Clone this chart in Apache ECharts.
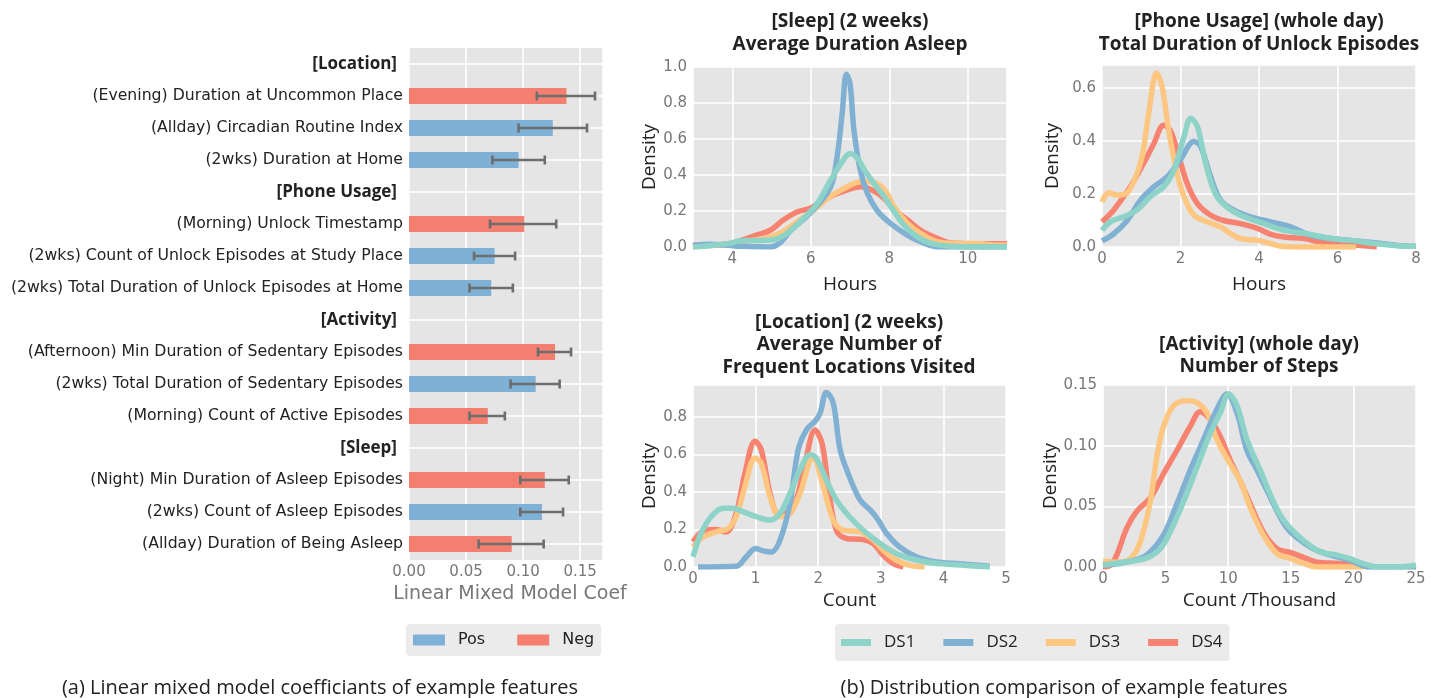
<!DOCTYPE html>
<html><head><meta charset="utf-8">
<script src="https://cdn.jsdelivr.net/npm/echarts@6/dist/echarts.min.js"></script>
<style>html,body{margin:0;padding:0;background:#fff}#c{width:1437px;height:698px}</style>
</head><body><div id="c"></div>
<script>
// ---------- (a) coefficients ----------
const features = ['[Location]','(Evening) Duration at Uncommon Place','(Allday) Circadian Routine Index','(2wks) Duration at Home',
  '[Phone Usage]','(Morning) Unlock Timestamp','(2wks) Count of Unlock Episodes at Study Place','(2wks) Total Duration of Unlock Episodes at Home',
  '[Activity]','(Afternoon) Min Duration of Sedentary Episodes','(2wks) Total Duration of Sedentary Episodes','(Morning) Count of Active Episodes',
  '[Sleep]','(Night) Min Duration of Asleep Episodes','(2wks) Count of Asleep Episodes','(Allday) Duration of Being Asleep'];
const coefValues = [null,0.138,0.126,0.096, null,0.101,0.075,0.072, null,0.128,0.111,0.069, null,0.119,0.1165,0.090];
const coefSign   = ['', 'Neg','Pos','Pos', '', 'Neg','Pos','Pos', '', 'Neg','Pos','Neg', '', 'Neg','Pos','Neg'];
const errLow     = [null,0.112,0.096,0.073, null,0.071,0.057,0.053, null,0.113,0.089,0.053, null,0.0975,0.0975,0.061];
const errHigh    = [null,0.163,0.156,0.119, null,0.129,0.093,0.091, null,0.142,0.132,0.084, null,0.140,0.135,0.118];
const signNames = ['Pos','Neg'];

// ---------- (b) densities ----------
const dsNames = ['DS1','DS2','DS3','DS4'];
// Sleep (hours)
const sleepDS1 = [[3,0],[3.94,0.02],[4.2,0.035],[4.8,0.037],[5.14,0.045],[5.48,0.09],[5.82,0.16],[6.16,0.24],[6.5,0.37],[6.85,0.49],[7.0,0.52],[7.2,0.49],[7.36,0.43],[7.62,0.35],[7.87,0.28],[8.13,0.195],[8.38,0.12],[8.73,0.055],[9.07,0.02],[9.58,0.004],[11,0]];
const sleepDS2 = [[3,0.008],[3.43,0.015],[3.9,0.01],[4.2,0.004],[4.97,0],[5.2,0.02],[5.48,0.09],[5.99,0.19],[6.5,0.33],[6.67,0.5],[6.8,0.74],[6.91,0.96],[7.0,0.91],[7.1,0.65],[7.26,0.43],[7.44,0.30],[7.7,0.2],[8.04,0.13],[8.47,0.065],[8.9,0.02],[9.24,0],[11,0]];
const sleepDS3 = [[3,0],[3.94,0.02],[4.8,0.047],[5.2,0.075],[5.65,0.14],[5.99,0.19],[6.5,0.28],[6.93,0.335],[7.27,0.363],[7.53,0.363],[7.87,0.32],[8.13,0.22],[8.47,0.13],[8.8,0.075],[9.24,0.028],[9.67,0.02],[10.2,0.02],[10.6,0.013],[11,0.01]];
const sleepDS4 = [[3,0.01],[3.6,0.01],[4.1,0.028],[4.6,0.065],[4.97,0.093],[5.3,0.15],[5.65,0.195],[5.99,0.215],[6.5,0.28],[6.93,0.317],[7.27,0.335],[7.53,0.32],[7.87,0.27],[8.13,0.205],[8.47,0.15],[8.8,0.093],[9.24,0.047],[9.58,0.022],[10.2,0.018],[11,0.018]];
// Phone usage (hours)
const phoneDS1 = [[0,0.063],[0.21,0.095],[0.55,0.114],[0.9,0.14],[1.23,0.19],[1.57,0.227],[1.83,0.29],[2.09,0.417],[2.26,0.486],[2.43,0.455],[2.64,0.316],[2.89,0.2],[3.19,0.15],[3.62,0.114],[4.13,0.088],[4.64,0.063],[5.23,0.05],[5.83,0.032],[6.34,0.025],[6.94,0.013],[7.53,0.005],[8,0.003]];
const phoneDS2 = [[0,0.023],[0.3,0.05],[0.64,0.1],[0.98,0.177],[1.32,0.227],[1.66,0.265],[2.0,0.33],[2.34,0.398],[2.51,0.38],[2.77,0.265],[3.02,0.177],[3.36,0.139],[3.79,0.114],[4.3,0.095],[4.81,0.076],[5.32,0.044],[5.83,0.032],[6.34,0.025],[7.02,0.015],[7.53,0.006],[8,0.003]];
const phoneDS3 = [[0,0.17],[0.17,0.205],[0.38,0.196],[0.6,0.2],[0.81,0.246],[1.02,0.34],[1.19,0.505],[1.39,0.657],[1.53,0.606],[1.7,0.44],[1.91,0.28],[2.09,0.19],[2.34,0.12],[2.68,0.095],[3.02,0.076],[3.28,0.05],[3.53,0.032],[3.96,0.025],[4.3,0.013],[4.55,0.003],[4.98,0],[6.47,0]];
const phoneDS4 = [[0,0.095],[0.3,0.14],[0.72,0.227],[1.06,0.316],[1.32,0.39],[1.57,0.46],[1.74,0.44],[1.96,0.34],[2.17,0.24],[2.43,0.164],[2.77,0.12],[3.1,0.1],[3.53,0.088],[3.96,0.07],[4.3,0.048],[4.64,0.038],[5.15,0.032],[5.57,0.019],[6.09,0.013],[6.6,0.006],[7.0,0]];
// Location (count)
const locDS1 = [[0,0.054],[0.13,0.18],[0.29,0.268],[0.48,0.3125],[0.64,0.3125],[0.8,0.295],[1.01,0.268],[1.23,0.25],[1.39,0.286],[1.55,0.393],[1.71,0.518],[1.87,0.598],[1.97,0.58],[2.13,0.464],[2.29,0.357],[2.5,0.268],[2.72,0.196],[2.99,0.125],[3.25,0.071],[3.57,0.036],[3.94,0.018],[4.32,0.009],[4.74,0]];
const locDS2 = [[0.08,0],[0.69,0.004],[0.85,0.054],[1.0,0.098],[1.12,0.086],[1.25,0.08],[1.39,0.143],[1.55,0.34],[1.68,0.625],[1.81,0.73],[1.95,0.777],[2.03,0.82],[2.13,0.93],[2.24,0.875],[2.35,0.625],[2.5,0.48],[2.67,0.357],[2.83,0.304],[2.96,0.25],[3.09,0.18],[3.3,0.107],[3.57,0.054],[3.89,0.027],[4.26,0.018],[4.74,0.004]];
const locDS3 = [[0,0.107],[0.16,0.16],[0.37,0.1875],[0.56,0.205],[0.69,0.268],[0.83,0.43],[0.99,0.58],[1.09,0.554],[1.23,0.375],[1.39,0.268],[1.55,0.286],[1.71,0.393],[1.87,0.571],[1.92,0.58],[2.08,0.43],[2.24,0.25],[2.4,0.196],[2.67,0.1875],[2.88,0.143],[3.04,0.089],[3.25,0.036],[3.46,0.009],[3.7,0]];
const locDS4 = [[0,0.134],[0.19,0.196],[0.37,0.2],[0.53,0.187],[0.69,0.286],[0.83,0.5],[0.99,0.67],[1.09,0.625],[1.23,0.393],[1.36,0.286],[1.52,0.286],[1.65,0.357],[1.79,0.554],[1.95,0.73],[2.06,0.66],[2.16,0.43],[2.29,0.196],[2.45,0.152],[2.72,0.146],[2.88,0.125],[3.04,0.0625],[3.2,0.018],[3.36,0]];
// Activity (count / thousand)
const stepDS1 = [[0,0.0014],[2.2,0.0047],[3.5,0.0075],[4.57,0.015],[5.37,0.029],[6.44,0.054],[7.5,0.082],[8.56,0.11],[9.36,0.127],[10.03,0.1425],[10.7,0.133],[11.5,0.105],[12.55,0.08],[13.35,0.06],[14.15,0.043],[14.95,0.032],[16,0.022],[17.3,0.0126],[18.7,0.0098],[19.7,0.007],[20.8,0.0028],[21.9,0],[23.5,0],[25,0.0014]];
const stepDS2 = [[0,0.0014],[2.2,0.0047],[3.5,0.01],[4.84,0.0265],[5.9,0.052],[6.97,0.08],[8.03,0.105],[9.1,0.13],[9.9,0.1425],[10.7,0.127],[11.5,0.096],[12.3,0.08],[13.1,0.063],[13.9,0.046],[14.7,0.032],[15.5,0.024],[16.8,0.015],[18.1,0.01],[19.7,0.0056],[21.3,0],[25,0]];
const stepDS3 = [[0,0.0047],[1.1,0.004],[2.2,0.007],[2.98,0.021],[3.78,0.054],[4.3,0.091],[4.84,0.116],[5.64,0.133],[6.7,0.137],[7.5,0.1355],[8.3,0.127],[9.1,0.105],[10.16,0.085],[10.96,0.071],[11.76,0.049],[12.8,0.0265],[13.9,0.011],[14.95,0.007],[16,0.003],[17.1,0],[20.8,0]];
const stepDS4 = [[0,0],[0.6,0.0014],[1.1,0.01],[1.9,0.032],[2.7,0.046],[3.78,0.057],[4.84,0.077],[5.9,0.096],[6.97,0.116],[7.77,0.128],[8.56,0.1215],[9.36,0.1075],[10.16,0.088],[10.96,0.071],[11.76,0.052],[12.8,0.029],[13.9,0.015],[14.95,0.012],[16,0.008],[17.1,0.004],[18.7,0.003],[20.3,0.0014],[21.2,0]];

const posColor = '#7fb0d5', negColor = '#f47f70';
const dsColors = {DS1:'#8dd3c7', DS2:'#80b1d3', DS3:'#fdc681', DS4:'#f6826f'};
const BG = '#e5e5e5', TICK = '#777777', DARK = '#222222';
const DJ = "'DejaVu Sans', sans-serif";
const COND = "'Liberation Sans Narrow', 'Open Sans', sans-serif";

const chart = echarts.init(document.getElementById('c'), null, {renderer:'canvas', width:1437, height:698});

const grids = [
  {left:409, top:48, width:194, height:512},
  {left:693, top:67, width:314, height:180},
  {left:1102, top:65, width:314, height:182},
  {left:693, top:385, width:313, height:182},
  {left:1103, top:385, width:313, height:182}
].map(g => Object.assign(g, {show:true, backgroundColor:BG, borderWidth:0, containLabel:false}));

const split = {show:true, lineStyle:{color:'#ffffff', width:1.6}};
const tickLab = (fmt, extra) => Object.assign({color:TICK, fontSize:15, fontFamily:DJ, formatter:fmt}, extra||{});
const mult = (v, s) => Math.abs(v / s - Math.round(v / s)) < 1e-6;

const xAxes = [
  {gridIndex:0, type:'value', min:0, max:0.17, interval:0.05, axisLine:{show:false}, axisTick:{show:false}, splitLine:split,
   axisLabel:tickLab(v => mult(v,0.05) ? v.toFixed(2) : '', {margin:5}),
   name:'Linear Mixed Model Coef', nameLocation:'middle', nameGap:25, nameTextStyle:{fontSize:19, color:TICK, fontFamily:DJ, padding:[0,0,0,8]}},
  {gridIndex:1, type:'value', min:3, max:11, splitNumber:4, axisLine:{show:false}, axisTick:{show:false}, splitLine:split,
   axisLabel:tickLab(v => (mult(v,2) && v>3 && v<11) ? String(v) : '', {margin:5}),
   name:'Hours', nameLocation:'middle', nameGap:28, nameTextStyle:{fontSize:19, color:DARK, fontFamily:COND}},
  {gridIndex:2, type:'value', min:0, max:8, interval:2, axisLine:{show:false}, axisTick:{show:false}, splitLine:split,
   axisLabel:tickLab(v => String(v), {margin:5}),
   name:'Hours', nameLocation:'middle', nameGap:28, nameTextStyle:{fontSize:19, color:DARK, fontFamily:COND}},
  {gridIndex:3, type:'value', min:0, max:5, interval:1, axisLine:{show:false}, axisTick:{show:false}, splitLine:split,
   axisLabel:tickLab(v => String(v), {margin:5}),
   name:'Count', nameLocation:'middle', nameGap:24, nameTextStyle:{fontSize:19, color:DARK, fontFamily:COND}},
  {gridIndex:4, type:'value', min:0, max:25, interval:5, axisLine:{show:false}, axisTick:{show:false}, splitLine:split,
   axisLabel:tickLab(v => String(v), {margin:5}),
   name:'Count /Thousand', nameLocation:'middle', nameGap:24, nameTextStyle:{fontSize:19, color:DARK, fontFamily:COND}}
];

const dens = (gi, max, step, dec, gap) => ({gridIndex:gi, type:'value', min:0, max:max, interval:step,
  axisLine:{show:false}, axisTick:{show:false}, splitLine:split,
  axisLabel:tickLab(v => mult(v, step) ? v.toFixed(dec) : '', {margin:6}),
  name:'Density', nameLocation:'middle', nameGap:gap, nameTextStyle:{fontSize:19, color:DARK, fontFamily:COND}});

const yAxes = [
  {gridIndex:0, type:'category', data:features, inverse:true, axisLine:{show:false}, axisTick:{show:false},
   splitLine:{show:true, alignWithLabel:true, lineStyle:{color:'#ffffff', width:1.6}},
   axisLabel:{margin:6, fontSize:15.7, color:DARK, fontFamily:DJ, interval:0,
     formatter: v => v.charAt(0) === '[' ? '{h|' + v + '}' : v,
     rich:{h:{fontWeight:'bold', fontSize:17, fontFamily:COND, color:DARK, padding:[0,6,0,0]}}}},
  dens(1, 1.0, 0.2, 1, 34),
  dens(2, 0.687, 0.2, 1, 40),
  dens(3, 0.97, 0.2, 1, 34),
  dens(4, 0.15, 0.05, 2, 40)
];

const series = [];
signNames.forEach(s => {
  series.push({type:'bar', name:s, xAxisIndex:0, yAxisIndex:0, barWidth:16, barGap:'-100%',
    itemStyle:{color: s === 'Pos' ? posColor : negColor},
    data: coefValues.map((v, i) => coefSign[i] === s ? v : null)});
});
const errData = [];
features.forEach((f, i) => { if (errLow[i] != null) errData.push([i, errLow[i], errHigh[i]]); });
series.push({type:'custom', name:'err', xAxisIndex:0, yAxisIndex:0, z:5, data:errData,
  encode:{x:[1,2], y:0},
  renderItem: function(params, api){
    const yi = api.value(0), lo = api.value(1), hi = api.value(2);
    const a = api.coord([lo, yi]), b = api.coord([hi, yi]);
    const cap = 4.5, st = {stroke:'#6e6e6e', lineWidth:2.6};
    return {type:'group', children:[
      {type:'line', shape:{x1:a[0], y1:a[1], x2:b[0], y2:b[1]}, style:st},
      {type:'line', shape:{x1:a[0], y1:a[1]-cap, x2:a[0], y2:a[1]+cap}, style:st},
      {type:'line', shape:{x1:b[0], y1:b[1]-cap, x2:b[0], y2:b[1]+cap}, style:st}
    ]};
  }});

const densSets = [
  {DS1:sleepDS1, DS2:sleepDS2, DS3:sleepDS3, DS4:sleepDS4},
  {DS1:phoneDS1, DS2:phoneDS2, DS3:phoneDS3, DS4:phoneDS4},
  {DS1:locDS1, DS2:locDS2, DS3:locDS3, DS4:locDS4},
  {DS1:stepDS1, DS2:stepDS2, DS3:stepDS3, DS4:stepDS4}
];
const drawOrder = ['DS4','DS3','DS2','DS1'];
densSets.forEach((set, k) => {
  drawOrder.forEach(n => {
    series.push({type:'line', name:n, xAxisIndex:k+1, yAxisIndex:k+1, data:set[n], smooth:0.35,
      showSymbol:false, symbol:'none', clip:true,
      lineStyle:{color:dsColors[n], width:5.5}, itemStyle:{color:dsColors[n]}});
  });
});

const txt = (text, x, y, size, weight, lh, color, family) => ({type:'text', x:x, y:y, silent:true,
  style:{text:text, fill:color||DARK, fontSize:size, fontWeight:weight, fontFamily:family||COND, lineHeight:lh,
         textAlign:'center', textVerticalAlign:'top'}});

const option = {
  animation:false,
  backgroundColor:'#ffffff',
  grid:grids, xAxis:xAxes, yAxis:yAxes, series:series,
  legend:[
    {data:signNames, left:406, top:624, orient:'horizontal', icon:'rect', itemWidth:32, itemHeight:11, itemGap:32,
     backgroundColor:'#ebebeb', borderRadius:4, padding:[8,7,8,7], selectedMode:false,
     itemStyle:{borderWidth:0},
     textStyle:{fontSize:16, color:DARK, fontFamily:DJ, padding:[0,0,0,8]}},
    {data:dsNames, left:835, top:624, orient:'horizontal', icon:'rect', itemWidth:30, itemHeight:7, itemGap:28,
     backgroundColor:'#ebebeb', borderRadius:4, padding:[10,7,10,6], selectedMode:false,
     itemStyle:{borderWidth:0},
     textStyle:{fontSize:17, color:DARK, fontFamily:COND, padding:[0,0,0,8]}}
  ],
  graphic:[
    txt('[Sleep] (2 weeks)\nAverage Duration Asleep', 850, 10, 19, 'bold', 23),
    txt('[Phone Usage] (whole day)\nTotal Duration of Unlock Episodes', 1259, 10, 19, 'bold', 23),
    txt('[Location] (2 weeks)\nAverage Number of\nFrequent Locations Visited', 849, 311, 19, 'bold', 22.5),
    txt('[Activity] (whole day)\nNumber of Steps', 1259, 333, 19, 'bold', 22.5),
    txt('(a) Linear mixed model coefficiants of example features', 320, 677, 20, 'normal', 22),
    txt('(b) Distribution comparison of example features', 1064, 677, 20, 'normal', 22)
  ]
};
chart.setOption(option);
</script></body></html>
